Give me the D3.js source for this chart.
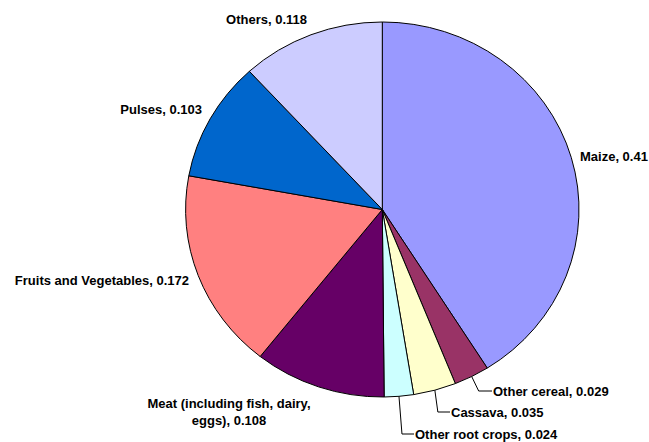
<!DOCTYPE html>
<html>
<head>
<meta charset="utf-8">
<script src="https://cdn.jsdelivr.net/npm/d3@7"></script>
<style>
  body { margin: 0; background: #fff; }
  text { font-family: "Liberation Sans", Arial, sans-serif; font-weight: bold; font-size: 13px; fill: #000; }
</style>
</head>
<body>
<div class="chart_container"></div>
<script>
// data
const categories = ["Maize", "Other cereal", "Cassava", "Other root crops", "Meat (including fish, dairy, eggs)", "Fruits and Vegetables", "Pulses", "Others"];
const values = [0.41, 0.029, 0.035, 0.024, 0.108, 0.172, 0.103, 0.118];
const colors = ["#9999FF", "#993366", "#FFFFCC", "#CCFFFF", "#660066", "#FF8080", "#0066CC", "#CCCCFF"];

// label layout (text lines, anchor x/y, alignment, leader line?)
const labelLayout = [
    { lines: ["Maize, 0.41"], x: 580, y: 161, anchor: "start" },
    { lines: ["Other cereal, 0.029"], x: 493, y: 395.5, anchor: "start", leader: true },
    { lines: ["Cassava, 0.035"], x: 451, y: 416.5, anchor: "start", leader: true },
    { lines: ["Other root crops, 0.024"], x: 415, y: 438.5, anchor: "start", leader: true },
    { lines: ["Meat (including fish, dairy,", "eggs), 0.108"], x: 229, y: 407.5, anchor: "middle" },
    { lines: ["Fruits and Vegetables, 0.172"], x: 189, y: 285, anchor: "end" },
    { lines: ["Pulses, 0.103"], x: 202, y: 113.5, anchor: "end" },
    { lines: ["Others, 0.118"], x: 307, y: 23.5, anchor: "end" }
];

//^ DIMENSIONS //
const width = 649;
const height = 442;
const cx = 382.3, cy = 209.5;
const rx = 196.7, ry = 187.5;
const r = 192;

const svg = d3.select(".chart_container")
    .append("svg")
    .attr("width", width)
    .attr("height", height);

const pie = d3.pie().sort(null).value((d) => d);
const arcs = pie(values);
const arc = d3.arc().innerRadius(0).outerRadius(r);

//^ SLICES (slightly elliptical like the original) //
svg.append("g")
    .attr("transform", `translate(${cx},${cy}) scale(${rx / r},${ry / r})`)
    .selectAll("path")
    .data(arcs)
    .enter()
    .append("path")
    .attr("d", arc)
    .attr("fill", (d, i) => colors[i])
    .attr("stroke", "#000")
    .attr("stroke-width", 1)
    .attr("vector-effect", "non-scaling-stroke");

//^ LABELS //
const edgePoint = (d) => {
    const a = (d.startAngle + d.endAngle) / 2;
    return [cx + rx * Math.sin(a), cy - ry * Math.cos(a)];
};

labelLayout.forEach((lab, i) => {
    if (lab.leader) {
        const [px, py] = edgePoint(arcs[i]);
        const ty = lab.y - 4.5;
        svg.append("polyline")
            .attr("points", `${px},${py} ${px + (i === 1 ? 7 : 3)},${ty} ${lab.x - 1},${ty}`)
            .attr("fill", "none")
            .attr("stroke", "#000")
            .attr("stroke-width", 1);
    }
    const t = svg.append("text")
        .attr("x", lab.x)
        .attr("y", lab.y)
        .attr("text-anchor", lab.anchor);
    lab.lines.forEach((ln, k) => {
        t.append("tspan").attr("x", lab.x).attr("dy", k === 0 ? 0 : 17).text(ln);
    });
});
</script>
</body>
</html>
